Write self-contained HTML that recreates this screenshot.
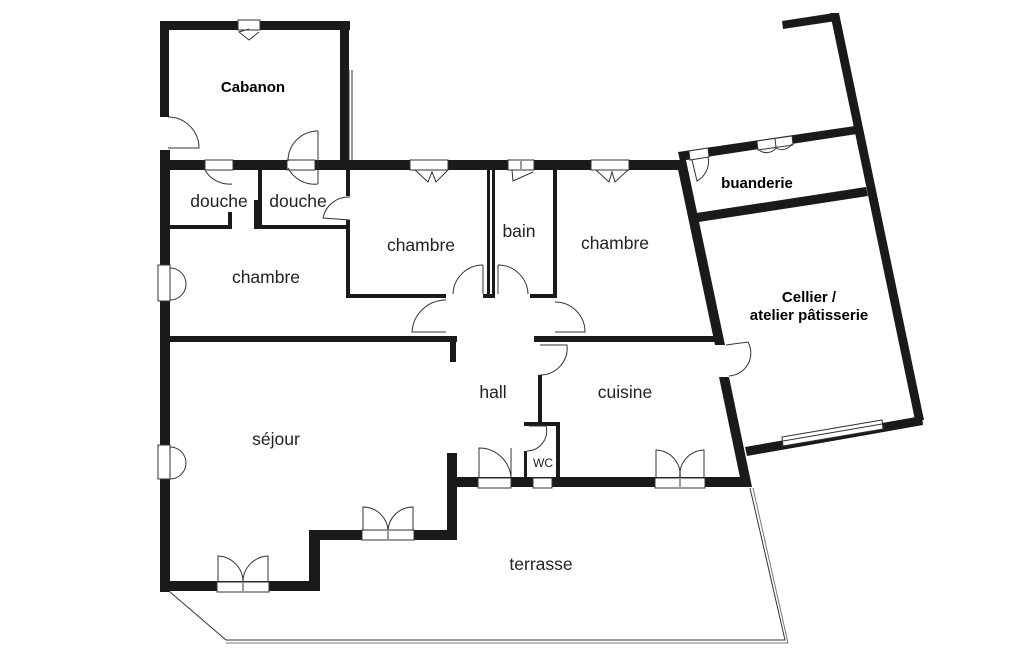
<!DOCTYPE html>
<html><head><meta charset="utf-8"><style>
html,body{margin:0;padding:0;background:#fff;}
svg{display:block;}
text{font-family:"Liberation Sans",sans-serif;fill:#222;}
.l{font-size:17.5px;}
.b{font-size:15px;font-weight:bold;fill:#000;}
</style></head><body>
<svg width="1025" height="650" viewBox="0 0 1025 650" xmlns="http://www.w3.org/2000/svg">
<g fill="#1a1a1a">
<rect x="160" y="21" width="190" height="9"/>
<rect x="160" y="21" width="9" height="96"/>
<rect x="340" y="21" width="9" height="145"/>
<rect x="160" y="160" width="520" height="10"/>
<rect x="160" y="150" width="10" height="442"/>
<rect x="160" y="581" width="160" height="10"/>
<rect x="309" y="530" width="11" height="61"/>
<rect x="309" y="530" width="148" height="10"/>
<rect x="447" y="453" width="10" height="87"/>
<rect x="447" y="477" width="303" height="10"/>
<polygon points="676,160 686,160 725,345 715,345"/>
<polygon points="719,377 729,377 752,487 742,487"/>
<polygon points="678,152 855,126 857,134 680,161"/>
<polygon points="782,21 834,13 836,21 783,29"/>
<polygon points="830,13 839,13 924,420 915,420"/>
<polygon points="745,447 922,416 923,425 747,456"/>
<polygon points="690,214 866,187 868,196 692,223"/>
<rect x="170" y="225" width="60" height="4"/>
<rect x="228" y="212" width="4" height="17"/>
<rect x="254" y="200" width="4" height="29"/>
<rect x="254" y="225" width="96" height="4"/>
<rect x="258" y="170" width="4" height="59"/>
<rect x="346" y="170" width="4" height="26"/>
<rect x="346" y="220" width="4" height="78"/>
<rect x="346" y="294" width="100" height="4"/>
<rect x="487" y="170" width="3" height="128"/>
<rect x="492" y="170" width="3" height="128"/>
<rect x="483" y="294" width="12" height="4"/>
<rect x="530" y="294" width="27" height="4"/>
<rect x="553" y="170" width="4" height="128"/>
<rect x="170" y="336" width="287" height="6"/>
<rect x="450" y="336" width="6" height="26"/>
<rect x="534" y="336" width="183" height="6"/>
<rect x="538" y="375" width="4" height="50"/>
<rect x="524" y="422" width="36" height="4"/>
<rect x="556" y="422" width="4" height="57"/>
<rect x="524" y="451" width="3" height="28"/>
</g>
<g fill="#fff" stroke="#333" stroke-width="1">
<rect x="238" y="20" width="22" height="10"/>
<rect x="205" y="160" width="28" height="10"/>
<rect x="287" y="160" width="28" height="10"/>
<rect x="410" y="160" width="38" height="10"/>
<rect x="508" y="160" width="26" height="10"/>
<rect x="591" y="160" width="38" height="10"/>
<rect x="158" y="265" width="12" height="36"/>
<rect x="158" y="445" width="12" height="34"/>
<rect x="217" y="582" width="52" height="10"/>
<rect x="362" y="530" width="52" height="10"/>
<rect x="478" y="478" width="33" height="10"/>
<rect x="533" y="478" width="19" height="10"/>
<rect x="655" y="478" width="50" height="10"/>
<polygon points="757,141 792,136 793,145 758,150"/>
<polygon points="689,151 708,148 709,157 690,160"/>
<polygon points="782,437 882,420 883,429 783,446"/>
</g>
<g stroke="#333" stroke-width="1" fill="none">
<line x1="243" y1="583" x2="243" y2="591"/><line x1="388" y1="531" x2="388" y2="539"/>
<line x1="680" y1="479" x2="680" y2="487"/><line x1="521" y1="161" x2="521" y2="169"/>
<line x1="783" y1="441" x2="882" y2="424"/><line x1="775" y1="139" x2="776" y2="147"/>
<path d="M168,117 A31,31 0 0 1 199,148 L168,148"/>
<path d="M318,131 A30,30 0 0 0 288,161 M318,131 L318,184 M288,168 A30,30 0 0 0 318,184"/>
<path d="M205,170 A28,28 0 0 0 232,184"/>
<path d="M249,29 L239,32 L249,40 L259,32"/>
<path d="M350,197 A26,26 0 0 0 323,218 L350,220"/>
<path d="M170,268 A16,16 0 0 1 170,300"/>
<path d="M170,447 A16,16 0 0 1 170,479"/>
<path d="M415,170 L428,182 L432,172 L436,182 L448,170"/>
<path d="M596,170 L609,182 L612,172 L615,182 L628,170"/>
<path d="M512,170 L513,181 L533,172"/>
<path d="M483,265 L483,294 M483,265 A30,30 0 0 0 453,294"/>
<path d="M498,265 L498,294 M498,265 A30,30 0 0 1 528,294"/>
<path d="M446,300 A34,34 0 0 0 412,332 L446,332"/>
<path d="M555,302 A30,30 0 0 1 585,332 L555,332"/>
<path d="M540,345 L567,345 A27,27 0 0 1 540,375"/>
<path d="M529,426 L546,426 A20,20 0 0 1 527,451"/>
<path d="M479,478 L479,448 A32,32 0 0 1 511,478 M511,448 L511,478"/>
<path d="M218,582 L218,556 A26,26 0 0 1 243,582 A26,26 0 0 1 268,556 L268,582"/>
<path d="M363,530 L363,507 A25,25 0 0 1 388,530 A25,25 0 0 1 413,507 L413,530"/>
<path d="M656,478 L656,450 A25,25 0 0 1 680,478 A25,25 0 0 1 704,450 L704,478"/>
<path d="M726,345 L748,342 A23,23 0 0 1 729,376"/>
<path d="M692,160 L697,181 A22,22 0 0 0 708,157"/>
<path d="M759,150 A12,12 0 0 0 776,148 A12,12 0 0 0 792,144"/>
<line x1="349" y1="70" x2="349" y2="160"/><line x1="352" y1="70" x2="352" y2="160"/>
<path d="M170,592 L226,640 L785,640 L750,488"/>
<path d="M226,643 L788,643 L753,488" stroke="#777"/>
</g>
<text class="b" x="253" y="92" text-anchor="middle">Cabanon</text>
<text class="l" x="219" y="207" text-anchor="middle">douche</text>
<text class="l" x="298" y="207" text-anchor="middle">douche</text>
<text class="l" x="421" y="251" text-anchor="middle">chambre</text>
<text class="l" x="519" y="237" text-anchor="middle">bain</text>
<text class="l" x="615" y="249" text-anchor="middle">chambre</text>
<text class="l" x="266" y="283" text-anchor="middle">chambre</text>
<text class="b" x="757" y="188" text-anchor="middle">buanderie</text>
<text class="b" x="809" y="302" text-anchor="middle">Cellier /</text>
<text class="b" x="809" y="320" text-anchor="middle">atelier pâtisserie</text>
<text class="l" x="493" y="398" text-anchor="middle">hall</text>
<text class="l" x="625" y="398" text-anchor="middle">cuisine</text>
<text class="l" x="276" y="445" text-anchor="middle">séjour</text>
<text x="543" y="467" text-anchor="middle" style="font-size:12px">WC</text>
<text class="l" x="541" y="570" text-anchor="middle">terrasse</text>
</svg>
</body></html>
